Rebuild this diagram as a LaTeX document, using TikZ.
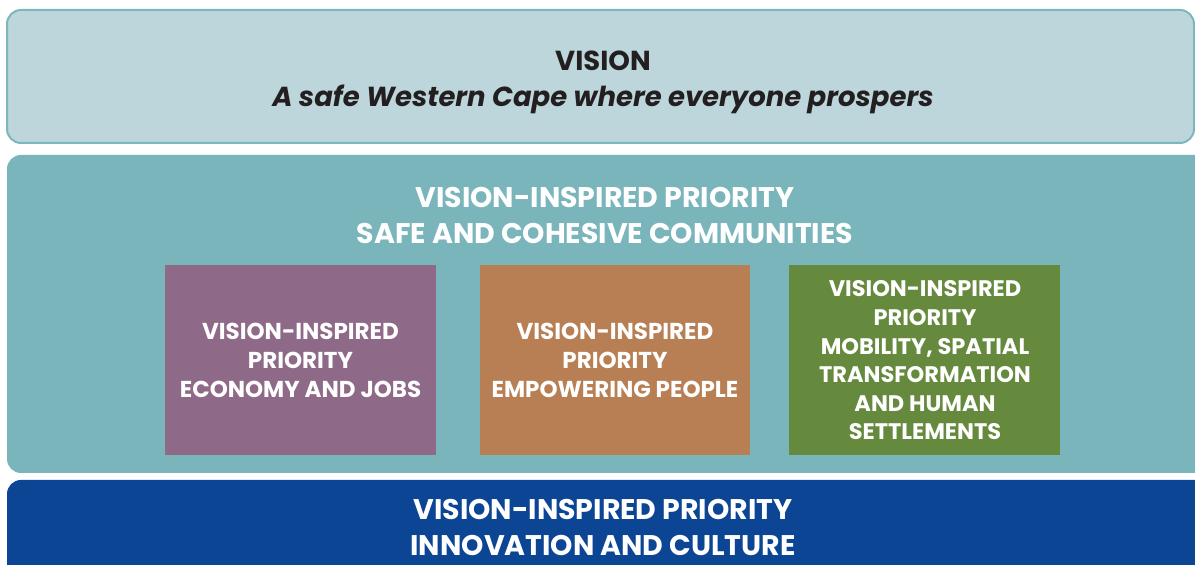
\documentclass[tikz,border=0pt]{standalone}
\usepackage{fontspec}
\setmainfont{Poppins}
\definecolor{visfill}{HTML}{BCD6DB}
\definecolor{visline}{HTML}{7DB6BC}
\definecolor{teal}{HTML}{7AB5BC}
\definecolor{purp}{HTML}{8F6A88}
\definecolor{oran}{HTML}{B77F53}
\definecolor{gree}{HTML}{658A3D}
\definecolor{navy}{HTML}{0B4594}
\definecolor{ink}{HTML}{231F20}
\tikzset{
  x=1pt,y=1pt,
  inner/.style={align=center,text=white,font=\bfseries\fontsize{23}{29}\selectfont},
  head/.style={align=center,text=white,font=\bfseries\fontsize{28.4}{36}\selectfont},
}
\begin{document}
\begin{tikzpicture}
\useasboundingbox (0,0) rectangle (1195,565);
\begin{scope}
\clip (0,0) rectangle (1195,565);
% top vision box
\draw[visline,fill=visfill,line width=2pt,rounded corners=14pt] (7,422) rectangle (1194,555);
% middle teal box
\fill[teal,rounded corners=14pt] (7,92) rectangle (1210,410);
% bottom navy box
\fill[navy,rounded corners=14pt] (7,-30) rectangle (1210,85);
\end{scope}
\fill[purp] (165,110) rectangle (436,300);
\fill[oran] (480,110) rectangle (750,300);
\fill[gree] (789,110) rectangle (1060,300);
\node[align=center,text=ink,font=\bfseries\fontsize{27.5}{36}\selectfont] (vision) at (603,483)
  {VISION\\\itshape A safe Western Cape where everyone prospers};
\node[head] (safe) at (605,350) {VISION-INSPIRED PRIORITY\\SAFE AND COHESIVE COMMUNITIES};
\node[inner] (econ) at (300.5,205) {VISION-INSPIRED\\PRIORITY\\ECONOMY AND JOBS};
\node[inner] (emp) at (615,205) {VISION-INSPIRED\\PRIORITY\\EMPOWERING PEOPLE};
\node[inner,font=\bfseries\fontsize{22.5}{28.6}\selectfont] (mob) at (925,204.5) {VISION-INSPIRED\\PRIORITY\\MOBILITY, SPATIAL\\TRANSFORMATION\\AND HUMAN\\SETTLEMENTS};
\node[head] (innov) at (603,38) {VISION-INSPIRED PRIORITY\\INNOVATION AND CULTURE};
\end{tikzpicture}
\end{document}
